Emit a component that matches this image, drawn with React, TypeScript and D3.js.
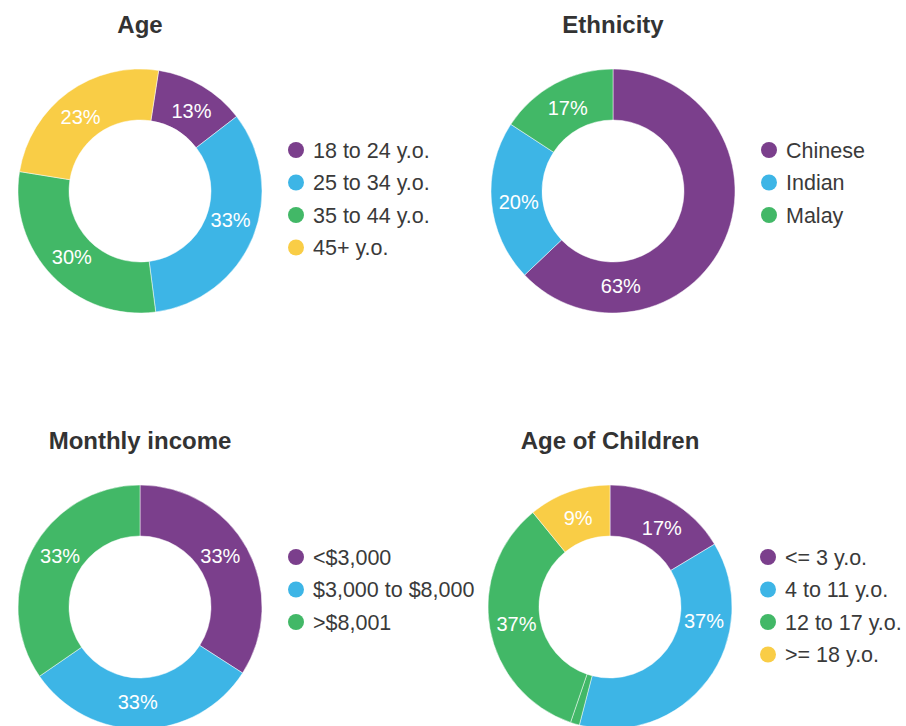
import React, { useEffect, useRef } from "react";
import * as d3 from "d3";

// slice colours shared by all four donuts
const purple = "#7b3f8c";
const blue = "#3db5e6";
const green = "#42b867";
const yellow = "#f9cd46";

// Age
const ageCategories = ["18 to 24 y.o.", "25 to 34 y.o.", "35 to 44 y.o.", "45+ y.o."];
const ageValues = [12.1, 33.4, 29.6, 24.9];
const ageLabels = ["13%", "33%", "30%", "23%"];
const ageColors = [purple, blue, green, yellow];

// Ethnicity
const ethCategories = ["Chinese", "Indian", "Malay"];
const ethValues = [62.9, 21.3, 15.8];
const ethLabels = ["63%", "20%", "17%"];
const ethColors = [purple, blue, green];

// Monthly income
const incomeCategories = ["<$3,000", "$3,000 to $8,000", ">$8,001"];
const incomeValues = [34.1, 31.3, 34.6];
const incomeLabels = ["33%", "33%", "33%"];
const incomeColors = [purple, blue, green];

// Age of children (the 3rd slice is the thin green sliver without a label)
const childCategories = ["<= 3 y.o.", "4 to 11 y.o.", "12 to 17 y.o.", ">= 18 y.o."];
const childValues = [16.4, 37.7, 1.2, 33.9, 10.9];
const childLabels = ["17%", "37%", "", "37%", "9%"];
const childColors = [purple, blue, green, green, yellow];
const childLegendColors = [purple, blue, green, yellow];

// where along each slice the % label sits (0.5 = middle of the slice)
const charts = [
  { title: "Age", values: ageValues, labels: ageLabels, colors: ageColors, legend: ageCategories, legendColors: ageColors, cx: 140, cy: 191, start: 8.8, legendX: 296, legendY: 150, labelAt: [0.55, 0.46, 0.5, 0.47] },
  { title: "Ethnicity", values: ethValues, labels: ethLabels, colors: ethColors, legend: ethCategories, legendColors: ethColors, cx: 613, cy: 191, start: 0, legendX: 769, legendY: 150, labelAt: [0.774, 0.48, 0.5] },
  { title: "Monthly income", values: incomeValues, labels: incomeLabels, colors: incomeColors, legend: incomeCategories, legendColors: incomeColors, cx: 140, cy: 607, start: 0, legendX: 296, legendY: 557, labelAt: [0.47, 0.52, 0.54] },
  { title: "Age of Children", values: childValues, labels: childLabels, colors: childColors, legend: childCategories, legendColors: childLegendColors, cx: 610, cy: 607, start: 0, legendX: 768, legendY: 557, labelAt: [0.56, 0.29, 0.5, 0.5, 0.5] },
];

const outerR = 122;
const innerR = 71;
const labelR = 95;
const font = "'Liberation Sans', Arial, Helvetica, sans-serif";

export default function App() {
  const ref = useRef<SVGSVGElement>(null);

  useEffect(() => {
    const svg = d3.select(ref.current);
    svg.selectAll("*").remove();

    const arc = d3.arc<d3.PieArcDatum<number>>().innerRadius(innerR).outerRadius(outerR);

    charts.forEach((c) => {
      const startRad = (c.start * Math.PI) / 180;
      const pie = d3.pie<number>().sort(null).startAngle(startRad).endAngle(startRad + 2 * Math.PI);
      const arcs = pie(c.values);

      const g = svg.append("g").attr("transform", `translate(${c.cx}, ${c.cy})`);

      g.selectAll("path")
        .data(arcs)
        .enter()
        .append("path")
        .attr("d", arc)
        .attr("fill", (d, i) => c.colors[i])
        .attr("stroke", "#fff")
        .attr("stroke-opacity", 0.6)
        .attr("stroke-width", 0.8);

      g.selectAll("text.pct")
        .data(arcs)
        .enter()
        .append("text")
        .attr("class", "pct")
        .attr("transform", (d, i) => {
          const a = d.startAngle + (d.endAngle - d.startAngle) * c.labelAt[i];
          return `translate(${labelR * Math.sin(a)}, ${-labelR * Math.cos(a)})`;
        })
        .attr("text-anchor", "middle")
        .attr("dy", "0.36em")
        .attr("fill", "#fff")
        .style("font-family", font)
        .style("font-size", "20px")
        .text((d, i) => c.labels[i]);

      // title
      svg.append("text")
        .attr("x", c.cx)
        .attr("y", c.cy - 158)
        .attr("text-anchor", "middle")
        .attr("fill", "#333")
        .style("font-family", font)
        .style("font-weight", "bold")
        .style("font-size", "24px")
        .text(c.title);

      // legend
      const lg = svg.append("g").attr("transform", `translate(${c.legendX}, ${c.legendY})`);
      const rows = lg.selectAll("g")
        .data(c.legend)
        .enter()
        .append("g")
        .attr("transform", (d, i) => `translate(0, ${i * 32.5})`);
      rows.append("circle")
        .attr("r", 8)
        .attr("fill", (d, i) => c.legendColors[i]);
      rows.append("text")
        .attr("x", 17)
        .attr("y", 7.8)
        .attr("fill", "#3a3a3a")
        .style("font-family", font)
        .style("font-size", "21.5px")
        .text((d) => d);
    });
  }, []);

  return (
    <svg
      ref={ref}
      width={906}
      height={726}
      style={{ position: "absolute", left: 0, top: 0, background: "#fff" }}
    ></svg>
  );
}
